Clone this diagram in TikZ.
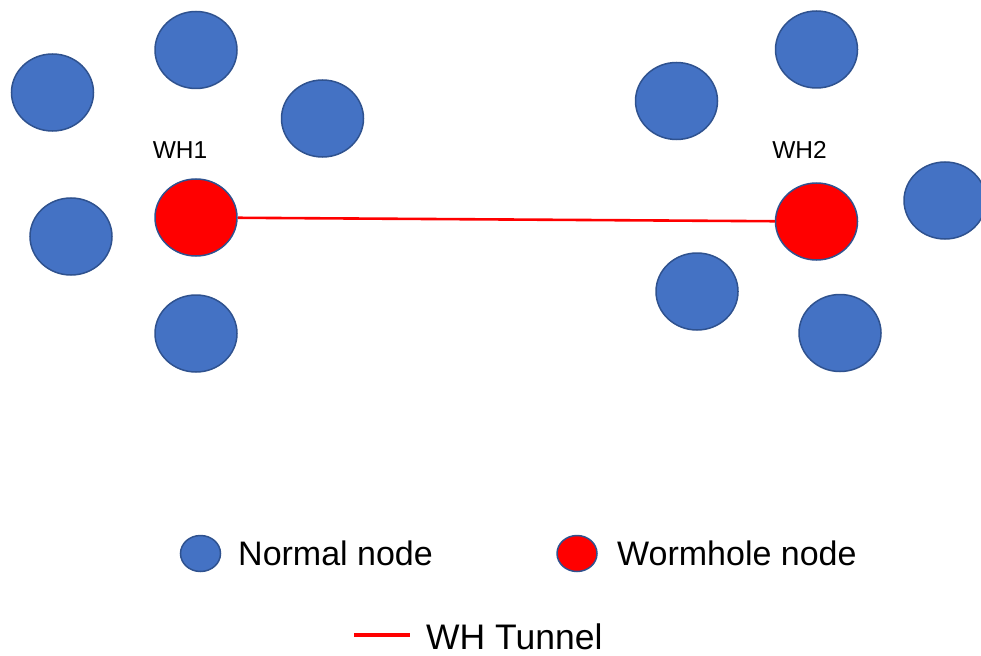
\documentclass[tikz,border=0pt]{standalone}
\usepackage{fontspec}
\setmainfont{Liberation Sans}
\usetikzlibrary{shapes.geometric}
\definecolor{nodeblue}{HTML}{4472C4}
\definecolor{rimblue}{HTML}{2F528F}
\definecolor{tunnelred}{HTML}{FF0000}
\tikzset{
  normalnode/.style={ellipse, draw=rimblue, fill=nodeblue, line width=1.5pt,
    minimum width=82pt, minimum height=77pt, inner sep=0pt},
  wormnode/.style={normalnode, fill=tunnelred},
  legendnormal/.style={normalnode, minimum width=40pt, minimum height=36pt},
  legendworm/.style={wormnode, minimum width=40pt, minimum height=36pt},
  tunnel/.style={draw=tunnelred, line width=2.6pt},
  whlabel/.style={anchor=base, inner sep=0pt, font=\fontsize{24.5}{28}\selectfont},
  legendtext/.style={anchor=base west, inner sep=0pt, font=\fontsize{34}{40}\selectfont}
}
\begin{document}
\begin{tikzpicture}[x=1pt, y=-1pt]
  \useasboundingbox (0,0) rectangle (981,655);
  \clip (0,0) rectangle (981,655);

  % left cluster
  \node[normalnode] (l1) at (52.5,92.5) {};
  \node[normalnode] (l2) at (196,50) {};
  \node[normalnode] (l3) at (322.5,118.5) {};
  \node[normalnode] (l4) at (71,236.5) {};
  \node[wormnode]   (wh1) at (196,217.5) {};
  \node[normalnode] (l5) at (196,333.5) {};
  \node[whlabel] (wh1lab) at (180,159) {WH1};

  % right cluster
  \node[normalnode] (r1) at (676.5,101) {};
  \node[normalnode] (r2) at (816.5,49.5) {};
  \node[normalnode] (r3) at (945,200.5) {};
  \node[wormnode]   (wh2) at (816.5,221.5) {};
  \node[normalnode] (r4) at (697,291.5) {};
  \node[normalnode] (r5) at (840,333) {};
  \node[whlabel] (wh2lab) at (799.5,159) {WH2};

  % wormhole tunnel
  \draw[tunnel] (wh1) -- (wh2);

  % legend
  \node[legendnormal] (lgn) at (200.5,553.5) {};
  \node[legendtext] (lgntext) at (238,565.7) {Normal node};
  \node[legendworm] (lgw) at (577,553.5) {};
  \node[legendtext] (lgwtext) at (617,565.7) {Wormhole node};
  \coordinate (lgt1) at (354,635);
  \coordinate (lgt2) at (410,635);
  \draw[tunnel, line width=4pt] (lgt1) -- (lgt2);
  \node[legendtext, font=\fontsize{35.5}{42}\selectfont] (lgttext) at (426,649) {WH Tunnel};
\end{tikzpicture}
\end{document}
